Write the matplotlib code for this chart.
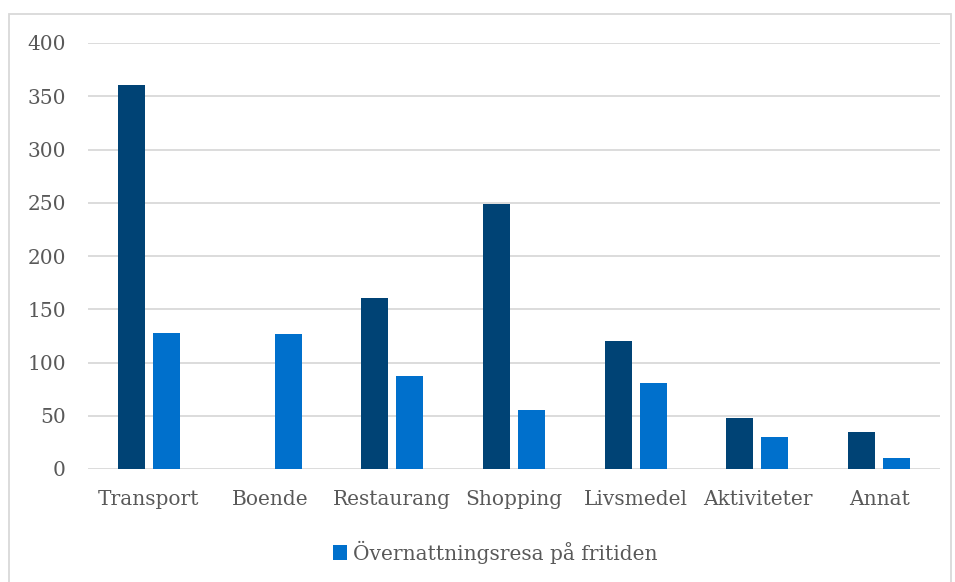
import numpy as np
import matplotlib.pyplot as plt
from matplotlib.patches import Rectangle

# * Data
categories = ['Transport', 'Boende', 'Restaurang', 'Shopping', 'Livsmedel', 'Aktiviteter', 'Annat']
series_dark = [361, 0, 161, 249, 120, 48, 35]
series_light = [128, 127, 87, 55, 81, 30, 10]
legend_label = 'Övernattningsresa på fritiden'
y_ticks = [0, 50, 100, 150, 200, 250, 300, 350, 400]

dark_color = '#004375'
light_color = '#0070CC'
text_color = '#595959'
grid_color = '#D9D9D9'

plt.rcParams['font.family'] = ['DejaVu Serif']

fig = plt.figure(figsize=(9.55, 5.82), dpi=100)
ax = fig.add_axes([88 / 955, 1 - 469 / 582, (940 - 88) / 955, (469 - 43) / 582])

x = np.arange(len(categories))
bar_w = 0.222
gap = 0.066
ax.bar(x - (bar_w + gap) / 2, series_dark, width=bar_w, color=dark_color, zorder=3)
ax.bar(x + (bar_w + gap) / 2, series_light, width=bar_w, color=light_color, zorder=3,
       label=legend_label)

ax.set_xlim(-0.5, len(categories) - 0.5)
ax.set_ylim(0, 400)
ax.set_yticks(y_ticks)
ax.set_xticks(x)
ax.set_xticklabels(categories)
ax.tick_params(axis='both', length=0, labelsize=14.5, colors=text_color)
ax.tick_params(axis='x', pad=15)
ax.tick_params(axis='y', pad=16)
ax.grid(axis='y', color=grid_color, linewidth=1.3, zorder=0)
for s in ax.spines.values():
    s.set_visible(False)

ax.legend(loc='center', bbox_to_anchor=(495 / 955, 1 - 552 / 582), bbox_transform=fig.transFigure,
          frameon=False, fontsize=14.5, labelcolor=text_color, handlelength=0.7, handleheight=0.7,
          handletextpad=0.3)

# outer chart border
fig.patches.append(Rectangle((9 / 955, -0.01), (951 - 9) / 955, 1 - 14 / 582 + 0.01,
                             transform=fig.transFigure, fill=False, edgecolor='#D9D9D9',
                             linewidth=1.3))

fig.savefig('out.png', dpi=100)
